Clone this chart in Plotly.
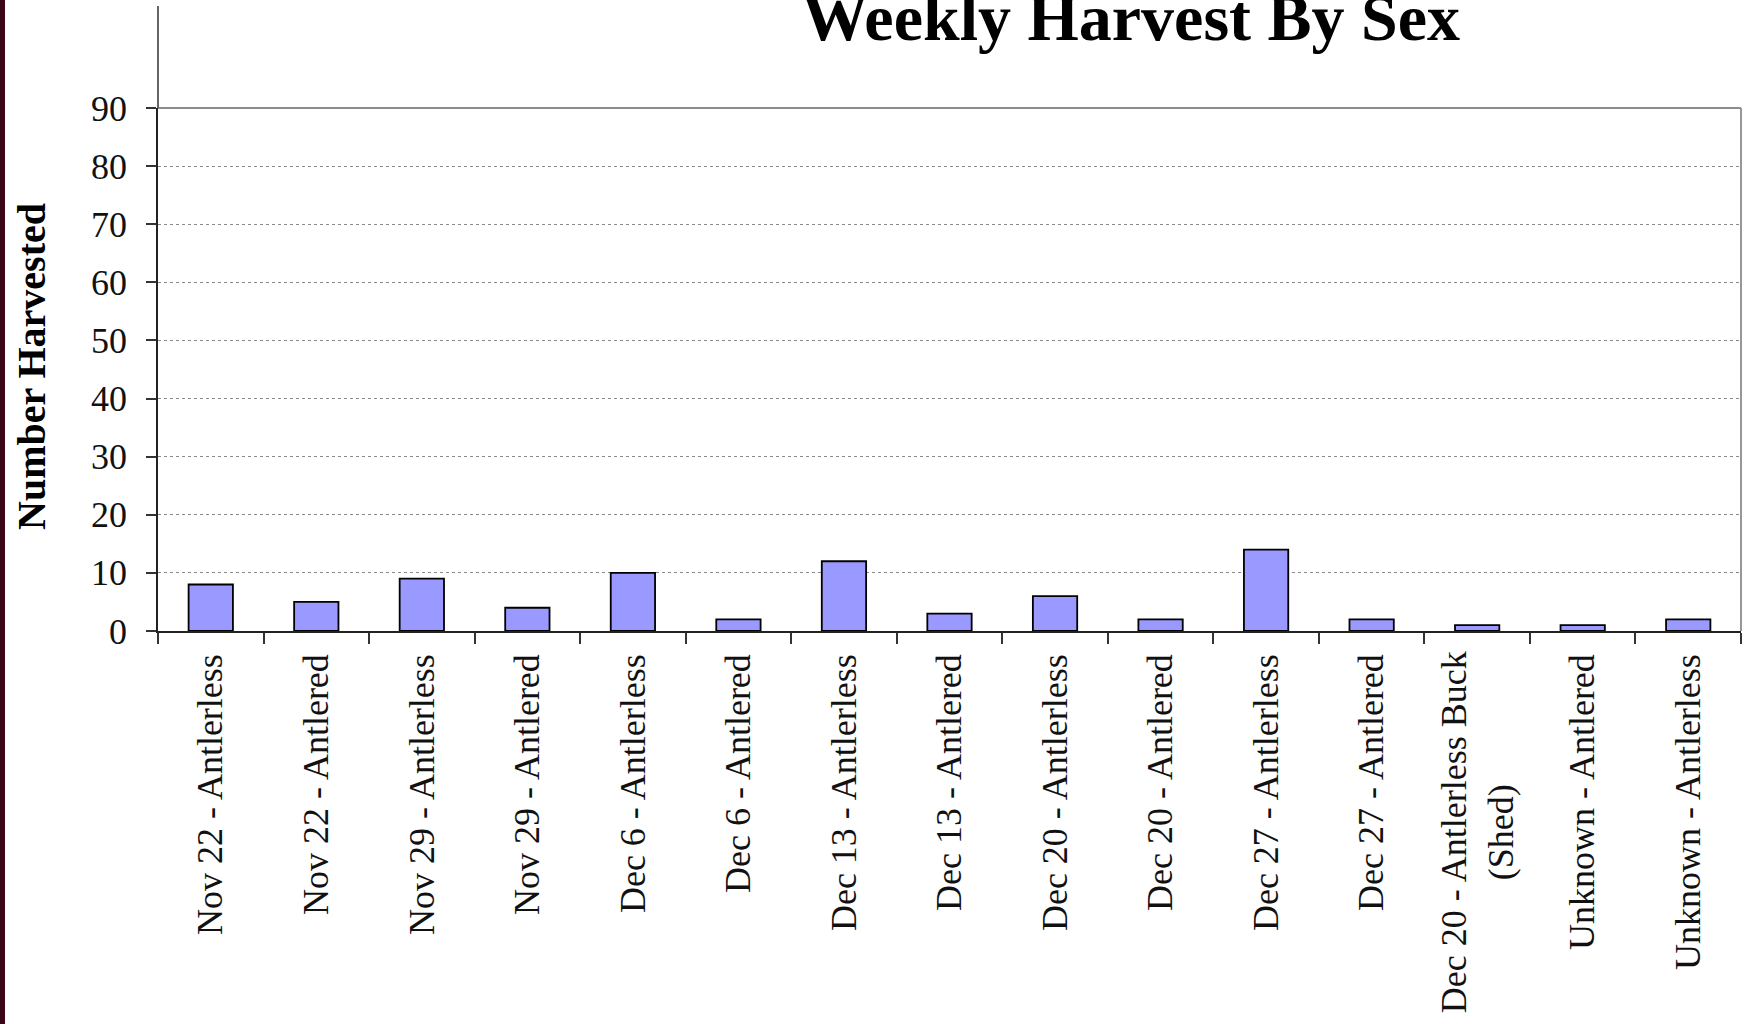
import plotly.graph_objects as go

categories = [
    "Nov 22 - Antlerless", "Nov 22 - Antlered", "Nov 29 - Antlerless", "Nov 29 - Antlered",
    "Dec 6 - Antlerless", "Dec 6 - Antlered", "Dec 13 - Antlerless", "Dec 13 - Antlered",
    "Dec 20 - Antlerless", "Dec 20 - Antlered", "Dec 27 - Antlerless", "Dec 27 - Antlered",
    "Dec 20 - Antlerless Buck<br>(Shed)", "Unknown - Antlered", "Unknown - Antlerless",
]
harvested = [8, 5, 9, 4, 10, 2, 12, 3, 6, 2, 14, 2, 1, 1, 2]
y_ticks = [0, 10, 20, 30, 40, 50, 60, 70, 80, 90]

W, H = 1745, 1024
L, R, T, B = 158, 1741, 108, 631
pw, ph = R - L, B - T

FONT = "Liberation Serif"
MULTI = [c for c in categories if "<br>" in c]
ticktext = ["" if c in MULTI else c for c in categories]

fig = go.Figure(go.Bar(
    x=categories, y=harvested, width=0.42,
    marker=dict(color="#9999FF", line=dict(color="#000000", width=1.8)),
))

fig.update_layout(
    width=W, height=H,
    margin=dict(l=L, r=W - R, t=T, b=H - B, pad=0),
    paper_bgcolor="white", plot_bgcolor="white",
    showlegend=False,
    font=dict(family=FONT, color="black"),
)
fig.update_xaxes(
    type="category", tickson="boundaries", ticks="outside", ticklen=11, tickwidth=1.5,
    tickcolor="#333", showline=True, linecolor="#222", linewidth=1.5,
    showgrid=False, tickangle=-90, tickfont=dict(size=36, family=FONT, color="#111"),
    tickvals=categories, ticktext=ticktext, ticklabelstandoff=7,
)
fig.update_yaxes(
    range=[0, 90], tickvals=y_ticks, ticks="outside", ticklen=10, tickwidth=1.5,
    tickcolor="#333", showline=True, linecolor="#222", linewidth=1.5,
    showgrid=True, gridcolor="#8a8a8a", griddash="dot", gridwidth=1.2,
    tickfont=dict(size=36, family=FONT, color="#111"), ticklabelstandoff=12,
    zeroline=False,
)

# multi-line category label, centred lines
for c in MULTI:
    fig.add_annotation(
        text=c, x=c, xref="x", yref="paper", y=-(18 / ph), showarrow=False,
        textangle=-90, xanchor="center", yanchor="top", align="center",
        font=dict(size=36, family=FONT, color="#111"),
    )

# gray top and right border, extended left axis line
fig.add_shape(type="line", xref="paper", yref="paper", x0=0, x1=1, y0=1, y1=1,
              line=dict(color="#8c8c8c", width=1.8))
fig.add_shape(type="line", xref="paper", yref="paper", x0=1, x1=1, y0=0, y1=1,
              line=dict(color="#8c8c8c", width=1.8))
fig.add_shape(type="line", xref="paper", yref="paper", x0=0, x1=0, y0=1, y1=1 + (T - 6) / ph,
              line=dict(color="#555", width=1.8))
# dark left edge strip
fig.add_shape(type="rect", xref="paper", yref="paper", x0=-L / pw, x1=(5 - L) / pw,
              y0=-(H - B) / ph, y1=1 + T / ph, line=dict(width=0), fillcolor="#3a0618")

fig.add_annotation(
    text="<b>Weekly Harvest By Sex</b>", xref="paper", yref="paper",
    x=(1131 - L) / pw, y=(B - 18) / ph, showarrow=False,
    xanchor="center", yanchor="middle", font=dict(size=66, family=FONT, color="black"),
)
fig.add_annotation(
    text="<b>Number Harvested</b>", xref="paper", yref="paper",
    x=(31 - L) / pw, y=(B - 367) / ph, showarrow=False, textangle=-90,
    xanchor="center", yanchor="middle", font=dict(size=40, family=FONT, color="black"),
)

fig.write_html(
    "out.html",
    config={"displayModeBar": False},
    post_script="document.body.style.margin='0';document.body.style.overflow='hidden';",
)
